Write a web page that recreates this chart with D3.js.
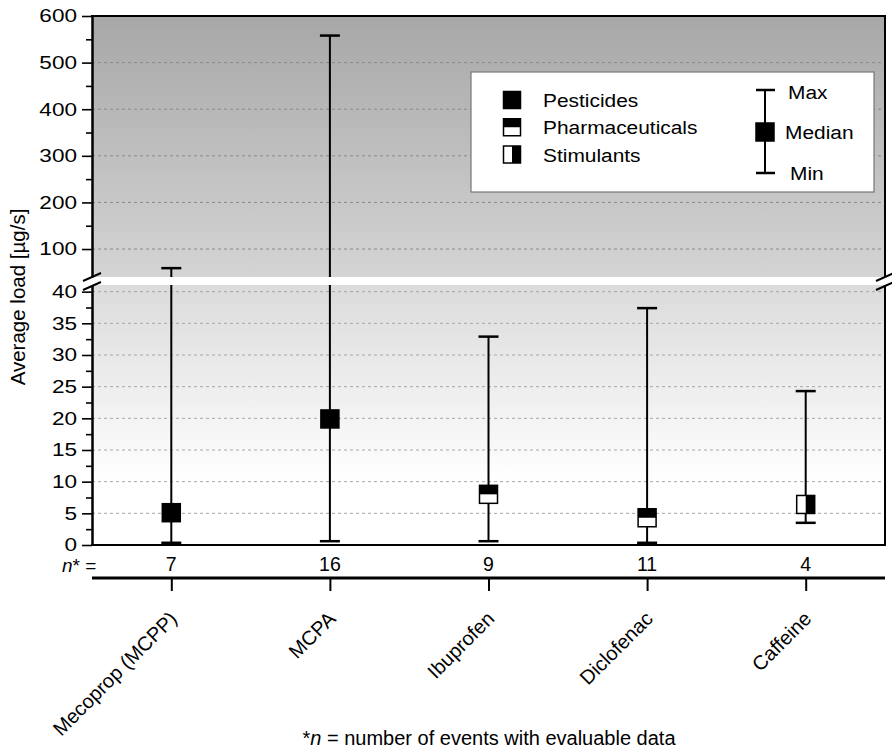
<!DOCTYPE html>
<html>
<head>
<meta charset="utf-8">
<script src="https://cdn.jsdelivr.net/npm/d3@7"></script>
<style>
  body { margin: 0; background: #fff; }
  svg { font-family: "Liberation Sans", Arial, sans-serif; }
</style>
</head>
<body>
<script>
// data
var compounds = ["Mecoprop (MCPP)", "MCPA", "Ibuprofen", "Diclofenac", "Caffeine"];
var groups = ["Pesticides", "Pesticides", "Pharmaceuticals", "Pharmaceuticals", "Stimulants"];
var maxLoad = [59, 558, 32.9, 37.4, 24.3];
var medianLoad = [5.1, 19.9, 8.0, 4.3, 6.4];
var minLoad = [0.35, 0.6, 0.6, 0.35, 3.5];
var nEvents = [7, 16, 9, 11, 4];

var upperTicks = [100, 200, 300, 400, 500, 600];
var upperMinor = [150, 250, 350, 450, 550];
var lowerTicks = [0, 5, 10, 15, 20, 25, 30, 35, 40];
var lowerMinor = [2.5, 7.5, 12.5, 17.5, 22.5, 27.5, 32.5, 37.5];
var legendGroups = ["Pesticides", "Pharmaceuticals", "Stimulants"];

var width = 892, height = 752;
var plotL = 92, plotR = 885, plotT = 16, plotB = 545;
var breakTop = 277, breakBottom = 285;

var svg = d3.select("body").append("svg")
  .attr("width", width)
  .attr("height", height);

var x = d3.scalePoint().domain(compounds).range([plotL, plotR]).padding(0.5);
var yUp = d3.scaleLinear().domain([40, 600]).range([breakTop, plotT]);
var lowMax = 41.05;
var yLo = d3.scaleLinear().domain([0, lowMax]).range([plotB, breakBottom]);

function y(v) {
  return v <= lowMax ? yLo(v) : yUp(v);
}

// background gradient
var defs = svg.append("defs");
var grad = defs.append("linearGradient")
  .attr("id", "bg")
  .attr("gradientUnits", "userSpaceOnUse")
  .attr("x1", 0).attr("x2", 0)
  .attr("y1", plotT).attr("y2", plotB);
grad.append("stop").attr("offset", 0).attr("stop-color", "#a7a7a7");
grad.append("stop").attr("offset", 0.49).attr("stop-color", "#d4d4d4");
grad.append("stop").attr("offset", 0.51).attr("stop-color", "#dbdbdb");
grad.append("stop").attr("offset", 0.88).attr("stop-color", "#ffffff");

svg.append("rect")
  .attr("x", plotL).attr("y", plotT)
  .attr("width", plotR - plotL).attr("height", plotB - plotT)
  .attr("fill", "url(#bg)");

// grid lines
svg.append("g").selectAll("line")
  .data(upperTicks.filter(d => d < 600))
  .enter().append("line")
  .attr("x1", plotL).attr("x2", plotR)
  .attr("y1", d => yUp(d)).attr("y2", d => yUp(d))
  .attr("stroke", "#8a8a8a").attr("stroke-width", 1)
  .attr("stroke-dasharray", "3,3");

svg.append("g").selectAll("line")
  .data(lowerTicks.filter(d => d > 0))
  .enter().append("line")
  .attr("x1", plotL).attr("x2", plotR)
  .attr("y1", d => yLo(d)).attr("y2", d => yLo(d))
  .attr("stroke", "#a6a6a6").attr("stroke-width", 1)
  .attr("stroke-dasharray", "3,3");

// white gap of the broken axis
svg.append("rect")
  .attr("x", plotL - 1).attr("y", breakTop)
  .attr("width", plotR - plotL + 3).attr("height", breakBottom - breakTop)
  .attr("fill", "#fff");

// legend box
var lg = svg.append("g");
lg.append("rect")
  .attr("x", 471).attr("y", 72)
  .attr("width", 403).attr("height", 120)
  .attr("fill", "#fff").attr("stroke", "#777").attr("stroke-width", 1.2);

function marker(g, group, cx, cy, s) {
  var h = s / 2;
  g.append("rect").attr("x", cx - h).attr("y", cy - h).attr("width", s).attr("height", s)
    .attr("fill", group == "Pesticides" ? "#000" : "#fff");
  if (group == "Pharmaceuticals") {
    g.append("rect").attr("x", cx - h).attr("y", cy - h).attr("width", s).attr("height", h)
      .attr("fill", "#000");
  } else if (group == "Stimulants") {
    g.append("rect").attr("x", cx).attr("y", cy - h).attr("width", h).attr("height", s)
      .attr("fill", "#000");
  }
  g.append("rect").attr("x", cx - h).attr("y", cy - h).attr("width", s).attr("height", s)
    .attr("fill", "none").attr("stroke", "#000").attr("stroke-width", 1.5);
}

var legendY = d3.scalePoint().domain(legendGroups).range([100, 154.5]);
legendGroups.forEach(function(gname) {
  marker(lg, gname, 512, legendY(gname), 17);
  lg.append("text")
    .attr("transform", "translate(543," + (legendY(gname) + 7) + ") scale(1.1,1)")
    .attr("font-size", 19)
    .text(gname);
});

// max / median / min key
lg.append("line").attr("x1", 765).attr("x2", 765).attr("y1", 90).attr("y2", 173)
  .attr("stroke", "#000").attr("stroke-width", 2);
[90, 173].forEach(function(cy) {
  lg.append("line").attr("x1", 756).attr("x2", 775).attr("y1", cy).attr("y2", cy)
    .attr("stroke", "#000").attr("stroke-width", 2.5);
});
marker(lg, "Pesticides", 765, 132, 18);
[["Max", 788, 92], ["Median", 785, 132], ["Min", 790, 173]].forEach(function(t) {
  lg.append("text")
    .attr("transform", "translate(" + t[1] + "," + (t[2] + 7) + ") scale(1.1,1)")
    .attr("font-size", 19)
    .text(t[0]);
});

// error bars
var bars = svg.append("g");
compounds.forEach(function(c, i) {
  var cx = x(c);
  var lo = minLoad[i], hi = maxLoad[i];
  if (hi > lowMax) {
    bars.append("line").attr("x1", cx).attr("x2", cx)
      .attr("y1", yLo(lo)).attr("y2", breakBottom)
      .attr("stroke", "#000").attr("stroke-width", 2);
    bars.append("line").attr("x1", cx).attr("x2", cx)
      .attr("y1", breakTop).attr("y2", yUp(hi))
      .attr("stroke", "#000").attr("stroke-width", 2);
  } else {
    bars.append("line").attr("x1", cx).attr("x2", cx)
      .attr("y1", y(lo)).attr("y2", y(hi))
      .attr("stroke", "#000").attr("stroke-width", 2);
  }
  [lo, hi].forEach(function(v) {
    bars.append("line").attr("x1", cx - 10).attr("x2", cx + 10)
      .attr("y1", y(v)).attr("y2", y(v))
      .attr("stroke", "#000").attr("stroke-width", 2.5);
  });
  marker(bars, groups[i], cx, y(medianLoad[i]), 18);
});

// axes
function styleAxis(g) {
  g.selectAll("path.domain").attr("stroke", "#000").attr("stroke-width", 2);
  g.selectAll(".tick line").attr("stroke", "#000").attr("stroke-width", 1.6);
  g.selectAll("text")
    .attr("font-size", 18.5)
    .attr("fill", "#000")
    .attr("x", -15 / 1.22)
    .attr("transform", "scale(1.22,1)");
}

var axUp = svg.append("g").attr("transform", "translate(" + plotL + ",0)")
  .call(d3.axisLeft(yUp).tickValues(upperTicks).tickSize(10).tickSizeOuter(0));
styleAxis(axUp);
var axUpMinor = svg.append("g").attr("transform", "translate(" + plotL + ",0)")
  .call(d3.axisLeft(yUp).tickValues(upperMinor).tickSize(6).tickSizeOuter(0).tickFormat(""));
styleAxis(axUpMinor);

var axLo = svg.append("g").attr("transform", "translate(" + plotL + ",0)")
  .call(d3.axisLeft(yLo).tickValues(lowerTicks).tickSize(10).tickSizeOuter(0));
styleAxis(axLo);
var axLoMinor = svg.append("g").attr("transform", "translate(" + plotL + ",0)")
  .call(d3.axisLeft(yLo).tickValues(lowerMinor).tickSize(6).tickSizeOuter(0).tickFormat(""));
styleAxis(axLoMinor);

// frame: top, right and bottom
svg.append("line").attr("x1", plotL - 1).attr("x2", plotR + 1).attr("y1", plotT).attr("y2", plotT)
  .attr("stroke", "#000").attr("stroke-width", 2);
svg.append("line").attr("x1", plotR).attr("x2", plotR).attr("y1", plotT).attr("y2", breakTop)
  .attr("stroke", "#000").attr("stroke-width", 2);
svg.append("line").attr("x1", plotR).attr("x2", plotR).attr("y1", breakBottom).attr("y2", plotB)
  .attr("stroke", "#000").attr("stroke-width", 2);
svg.append("line").attr("x1", plotL - 1).attr("x2", plotR + 1).attr("y1", plotB).attr("y2", plotB)
  .attr("stroke", "#000").attr("stroke-width", 2);

// break marks
[plotL, plotR].forEach(function(bx) {
  [breakTop, breakBottom + 1].forEach(function(by) {
    svg.append("line")
      .attr("x1", bx - 9).attr("y1", by + 4)
      .attr("x2", bx + 9).attr("y2", by - 4)
      .attr("stroke", "#000").attr("stroke-width", 2);
  });
});

// y title
svg.append("text")
  .attr("transform", "translate(25,297) rotate(-90)")
  .attr("text-anchor", "middle")
  .attr("font-size", 20.5)
  .text("Average load [µg/s]");

// n row
var nRow = svg.append("text")
  .attr("x", 62).attr("y", 572)
  .attr("font-size", 19);
nRow.append("tspan").attr("font-style", "italic").text("n");
nRow.append("tspan").text("* =");

svg.append("g").selectAll("text")
  .data(nEvents)
  .enter().append("text")
  .attr("x", (d, i) => x(compounds[i]))
  .attr("y", 571)
  .attr("text-anchor", "middle")
  .attr("font-size", 19.5)
  .text(d => d);

svg.append("line").attr("x1", plotL).attr("x2", plotR).attr("y1", 578).attr("y2", 578)
  .attr("stroke", "#000").attr("stroke-width", 3);

var xAxis = svg.append("g").attr("transform", "translate(0,578)")
  .call(d3.axisBottom(x).tickSize(13).tickSizeOuter(0).tickFormat(""));
xAxis.select("path.domain").remove();
xAxis.selectAll(".tick line").attr("stroke", "#000").attr("stroke-width", 2);

svg.append("g").selectAll("text")
  .data(compounds)
  .enter().append("text")
  .attr("transform", d => "translate(" + (x(d) + 7) + ",620) rotate(-45)")
  .attr("text-anchor", "end")
  .attr("font-size", 20)
  .text(d => d);

// caption
var cap = svg.append("text")
  .attr("x", 489).attr("y", 745)
  .attr("text-anchor", "middle")
  .attr("font-size", 20);
cap.append("tspan").text("*");
cap.append("tspan").attr("font-style", "italic").text("n");
cap.append("tspan").text(" = number of events with evaluable data");
</script>
</body>
</html>
